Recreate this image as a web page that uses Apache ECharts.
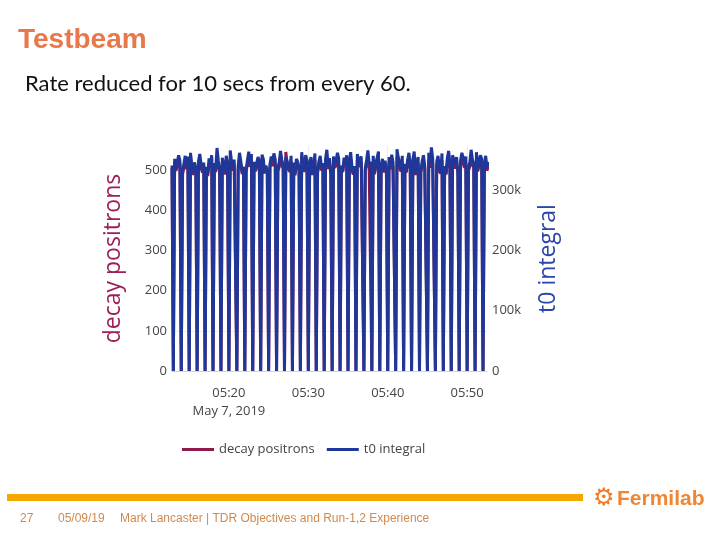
<!DOCTYPE html>
<html>
<head>
<meta charset="utf-8">
<script src="https://cdn.jsdelivr.net/npm/echarts@6/dist/echarts.min.js"></script>
<style>
  html, body { margin: 0; padding: 0; background: #fff; }
  #main { width: 720px; height: 540px; }
</style>
</head>
<body>
<div id="main"></div>
<script>
// samples every 10 s from 05:12:50, one row per minute, the 0 is the reduced-rate gap
var startTime = new Date(2019, 4, 7, 5, 12, 50).getTime()
var stepMs = 10000

var decayRows = [
    [505, 0, 520, 498, 512, 530], [515, 0, 490, 508, 525, 502], [520, 0, 535, 500, 488, 512], [498, 0, 510, 526, 505, 494],
    [512, 0, 500, 485, 518, 507], [530, 0, 508, 495, 521, 514], [496, 0, 517, 503, 489, 526], [508, 0, 524, 511, 499, 515],
    [519, 0, 502, 528, 513, 490], [501, 0, 495, 516, 532, 508], [524, 0, 511, 497, 506, 519], [510, 0, 529, 515, 492, 503],
    [493, 0, 506, 521, 510, 527], [517, 0, 498, 507, 535, 512], [505, 0, 545, 514, 502, 496], [522, 0, 509, 487, 518, 511],
    [500, 0, 536, 504, 496, 523], [513, 0, 507, 519, 488, 505], [526, 0, 494, 510, 524, 499], [508, 0, 515, 532, 503, 517],
    [491, 0, 520, 506, 512, 528], [514, 0, 503, 495, 519, 510], [520, 0, 512, 527, 500, 489], [503, 0, 525, 508, 516, 521],
    [517, 0, 498, 513, 530, 505], [509, 0, 521, 490, 507, 518], [528, 0, 505, 516, 494, 512], [496, 0, 519, 502, 523, 508],
    [511, 0, 533, 518, 505, 497], [522, 0, 507, 494, 514, 526], [505, 0, 516, 529, 488, 510], [518, 0, 494, 511, 520, 503],
    [500, 0, 527, 506, 538, 515], [513, 0, 510, 521, 497, 492], [525, 0, 503, 489, 516, 530], [507, 0, 522, 514, 504, 519],
    [494, 0, 511, 525, 517, 506], [519, 0, 500, 508, 529, 513], [508, 0, 526, 497, 511, 521], [516, 0, 505, 520, 499, 510]
]

var t0Rows = [
    [341000, 0, 352000, 336000, 347000, 358000], [349000, 0, 333000, 344000, 357000, 340000],
    [356000, 0, 362000, 338000, 329000, 346000], [337000, 0, 348000, 360000, 343000, 333000],
    [346000, 0, 339000, 327000, 353000, 344000], [358000, 0, 345000, 334000, 370000, 349000],
    [335000, 0, 354000, 341000, 330000, 357000], [344000, 0, 366000, 347000, 338000, 351000],
    [353000, 0, 340000, 362000, 348000, 331000], [339000, 0, 333000, 350000, 364000, 343000],
    [360000, 0, 347000, 336000, 345000, 355000], [348000, 0, 359000, 352000, 330000, 341000],
    [332000, 0, 343000, 356000, 349000, 361000], [351000, 0, 337000, 346000, 365000, 350000],
    [342000, 0, 355000, 348000, 339000, 334000], [357000, 0, 346000, 328000, 352000, 347000],
    [338000, 0, 363000, 342000, 335000, 358000], [350000, 0, 344000, 355000, 326000, 341000],
    [361000, 0, 334000, 348000, 357000, 337000], [345000, 0, 352000, 367000, 340000, 353000],
    [329000, 0, 356000, 343000, 349000, 362000], [352000, 0, 341000, 332000, 354000, 346000],
    [358000, 0, 349000, 363000, 338000, 327000], [340000, 0, 360000, 345000, 351000, 356000],
    [353000, 0, 336000, 350000, 366000, 343000], [347000, 0, 357000, 330000, 344000, 354000],
    [364000, 0, 342000, 352000, 333000, 349000], [334000, 0, 355000, 340000, 359000, 346000],
    [349000, 0, 368000, 354000, 343000, 335000], [357000, 0, 344000, 331000, 350000, 362000],
    [343000, 0, 351000, 364000, 328000, 347000], [355000, 0, 332000, 348000, 358000, 340000],
    [338000, 0, 362000, 345000, 371000, 352000], [350000, 0, 347000, 357000, 336000, 329000],
    [361000, 0, 340000, 327000, 353000, 365000], [345000, 0, 358000, 350000, 342000, 355000],
    [331000, 0, 349000, 362000, 354000, 344000], [356000, 0, 338000, 346000, 367000, 351000],
    [344000, 0, 363000, 335000, 348000, 358000], [352000, 0, 343000, 357000, 337000, 347000]
]

var seriesNames = ['decay positrons', 't0 integral']
var xMin = new Date(2019, 4, 7, 5, 12, 50).getTime()
var xMax = new Date(2019, 4, 7, 5, 52, 30).getTime()
// x tick positions (minute of 05:xx)
var tickMinutes = [20, 30, 40, 50]
var tickTimes = tickMinutes.map(function (m) {
    return new Date(2019, 4, 7, 5, m, 0).getTime()
})

//把每分钟一行的数据拼成 [时间, 值]
function toPairs(rows) {
    var out = []
    rows.forEach(function (row) {
        row.forEach(function (v) {
            out.push([startTime + out.length * stepMs, v])
        })
    })
    return out
}

function pad(n) {
    return n < 10 ? '0' + n : '' + n
}

var font = 'Open Sans'
var footFont = '12px "Liberation Sans", Arial'
var chart = echarts.init(document.getElementById('main'))
chart.setOption({
    backgroundColor: '#fff',
    animation: false,
    grid: {left: 172, right: 233, top: 146, bottom: 169},
    legend: {
        data: seriesNames,
        left: 177,
        top: 438,
        icon: 'rect',
        itemWidth: 32,
        itemHeight: 3,
        itemGap: 12,
        textStyle: {color: '#444', fontSize: 13, fontFamily: font}
    },
    xAxis: {
        type: 'value',
        min: xMin,
        max: xMax,
        axisLine: {show: true, onZero: false, lineStyle: {color: '#d8d0e0'}},
        axisTick: {show: false, customValues: tickTimes},
        splitLine: {show: false},
        axisLabel: {
            color: '#444',
            fontSize: 13,
            fontFamily: font,
            margin: 13,
            lineHeight: 18,
            hideOverlap: false,
            customValues: tickTimes,
            formatter: function (val) {
                var d = new Date(val)
                var s = pad(d.getHours()) + ':' + pad(d.getMinutes())
                if (val === tickTimes[0]) s += '\nMay 7, 2019'
                return s
            }
        }
    },
    yAxis: [{
        type: 'value',
        min: 0,
        max: 560,
        interval: 100,
        name: 'decay positrons',
        nameLocation: 'middle',
        nameRotate: 90,
        nameGap: 47,
        nameTextStyle: {color: '#9c1f55', fontSize: 23, fontFamily: font},
        axisLine: {show: false},
        axisTick: {show: false},
        axisLabel: {color: '#444', fontSize: 13, fontFamily: font, margin: 5, showMaxLabel: false},
        splitLine: {show: true, showMaxLine: false, lineStyle: {color: '#eeeeee'}}
    }, {
        type: 'value',
        min: 0,
        max: 373333,
        interval: 100000,
        name: 't0 integral',
        nameLocation: 'middle',
        nameRotate: 90,
        nameGap: 50,
        nameTextStyle: {color: '#2a46a8', fontSize: 23, fontFamily: font},
        axisLine: {show: false},
        axisTick: {show: false},
        axisLabel: {
            color: '#444', fontSize: 13, fontFamily: font, margin: 5, showMaxLabel: false,
            formatter: function (v) {
                return v === 0 ? '0' : (v / 1000) + 'k'
            }
        },
        splitLine: {show: false}
    }],
    series: [{
        name: seriesNames[0],
        type: 'line',
        yAxisIndex: 0,
        showSymbol: false,
        color: '#8e1a4b',
        lineStyle: {width: 3},
        data: toPairs(decayRows),
        z: 2,
        // vertical grid lines at the x ticks
        markLine: {
            silent: true,
            symbol: 'none',
            label: {show: false},
            lineStyle: {color: '#eeeeee', type: 'solid', width: 1},
            z: 1,
            data: tickTimes.map(function (t) {
                return {xAxis: t}
            })
        }
    }, {
        name: seriesNames[1],
        type: 'line',
        yAxisIndex: 1,
        showSymbol: false,
        color: '#1f3799',
        lineStyle: {width: 3},
        data: toPairs(t0Rows),
        z: 3
    }],
    graphic: [
        {type: 'text', left: 18, top: 26, style: {text: 'Testbeam', fill: '#e8784a', font: 'bold 28px "Liberation Sans", Arial'}},
        {type: 'text', left: 25, top: 73, style: {text: 'Rate reduced for 10 secs from every 60.', fill: '#111', font: '22px Lato'}},
        {type: 'rect', shape: {x: 7, y: 494, width: 576, height: 7}, style: {fill: '#f6a800'}},
        {type: 'text', left: 593, top: 487, style: {text: '\u2699', fill: '#f07a28', font: 'bold 24px "DejaVu Sans"'}},
        {type: 'text', left: 617, top: 489, style: {text: 'Fermilab', fill: '#f08532', font: 'bold 21px "Liberation Sans", Arial'}},
        {type: 'text', left: 20, top: 513, style: {text: '27', fill: '#cf8a4e', font: footFont}},
        {type: 'text', left: 58, top: 513, style: {text: '05/09/19', fill: '#cf8a4e', font: footFont}},
        {type: 'text', left: 120, top: 513, style: {text: 'Mark Lancaster | TDR Objectives and Run-1,2 Experience', fill: '#cf8a4e', font: footFont}}
    ]
})
</script>
</body>
</html>
